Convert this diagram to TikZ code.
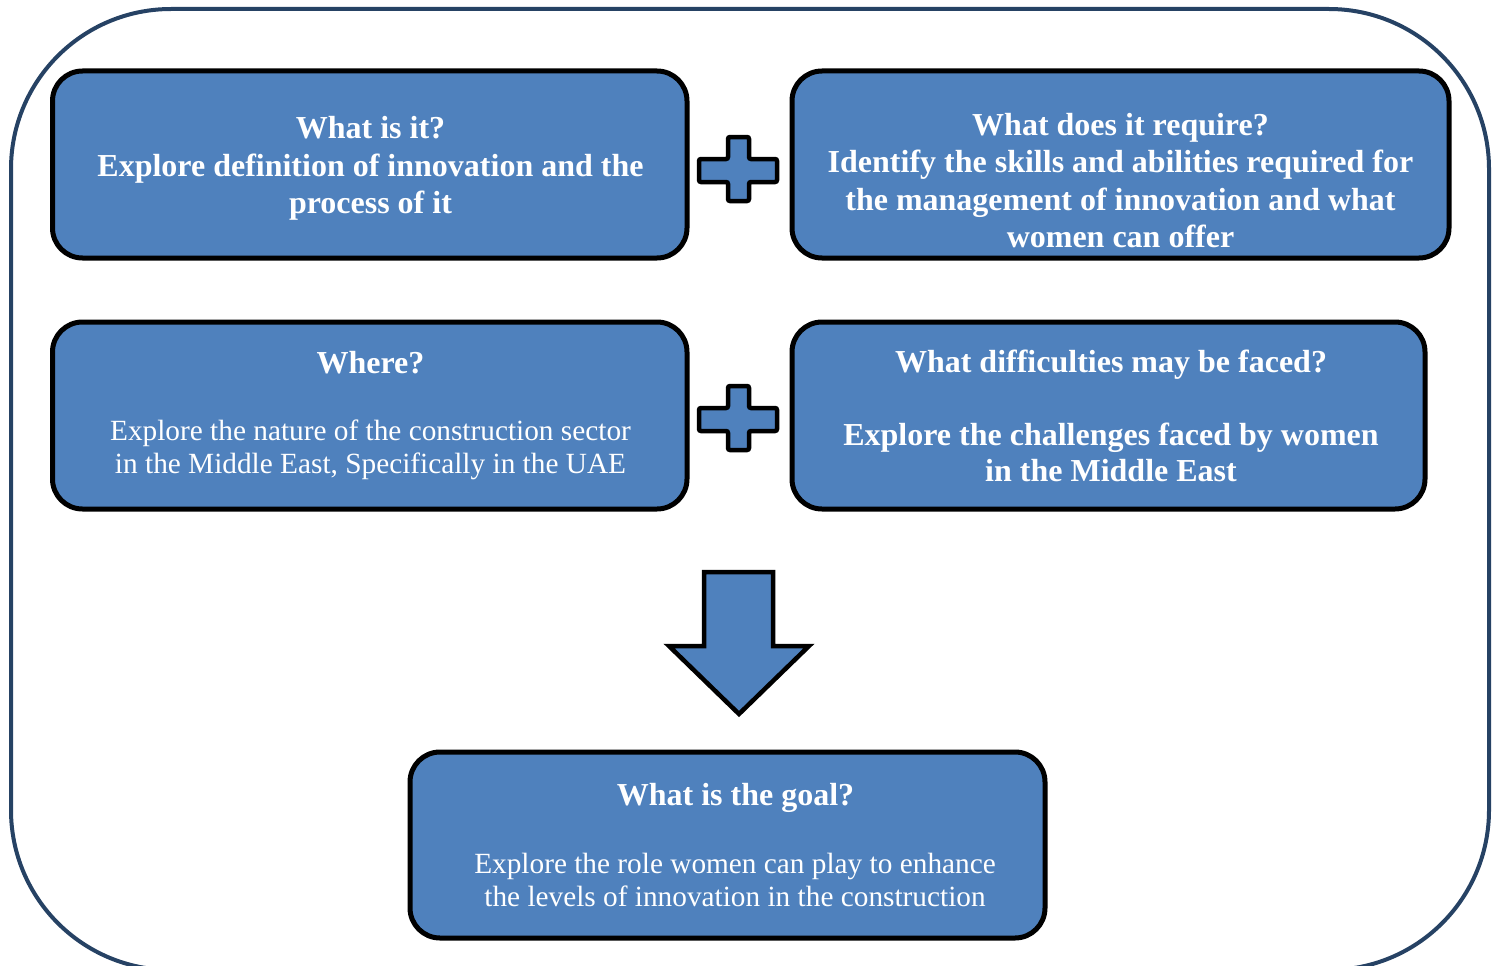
\documentclass[tikz,border=0pt]{standalone}
\usepackage{fontspec}
\setmainfont{Liberation Serif}
\definecolor{boxblue}{HTML}{4F81BD}
\definecolor{framenavy}{RGB}{38,66,100}
\begin{document}
\begin{tikzpicture}[x=1pt,y=-1pt,
  box/.style={draw=black, line width=5pt, fill=boxblue, rounded corners=30pt},
  shapeblue/.style={draw=black, line width=4.5pt, fill=boxblue},
  bt/.style={text=white, inner sep=0pt, anchor=base, font=\fontsize{32}{38}\selectfont\bfseries},
  rt/.style={text=white, inner sep=0pt, anchor=base, font=\fontsize{29.3}{35}\selectfont}]
\useasboundingbox (0,0) rectangle (1499,966);
\begin{scope}
\clip (0,0) rectangle (1499,966);
\draw[framenavy, line width=4pt, rounded corners=160pt] (11,9) rectangle (1489,970);
\end{scope}

% boxes
\draw[box] (52.5,71) rectangle (687,258);
\draw[box] (792,71) rectangle (1449,258);
\draw[box] (52.5,322) rectangle (687,509);
\draw[box] (792,322) rectangle (1425,509);
\draw[box] (410,752) rectangle (1045,938);

% plus signs
\foreach \dy in {0,249}{
\draw[shapeblue, rounded corners=2pt, line join=miter] (728,137+\dy) -- (749,137+\dy) -- (749,159+\dy) -- (777,159+\dy) -- (777,182+\dy) -- (749,182+\dy) -- (749,201+\dy) -- (728,201+\dy) -- (728,182+\dy) -- (699,182+\dy) -- (699,159+\dy) -- (728,159+\dy) -- cycle;
}

% down arrow
\draw[shapeblue, line join=miter, miter limit=10] (704,572) -- (773,572) -- (773,646) -- (809,646) -- (739,714) -- (669,646) -- (704,646) -- cycle;

% texts box 1
\node[bt] (t1a) at (370.5,138) {What is it?};
\node[bt] (t1b) at (370.5,176) {Explore definition of innovation and the};
\node[bt] (t1c) at (370.5,213.5) {process of it};
% box 2
\node[bt] (t2a) at (1120.5,135) {What does it require?};
\node[bt] (t2b) at (1120.5,172) {Identify the skills and abilities required for};
\node[bt] (t2c) at (1120.5,210) {the management of innovation and what};
\node[bt] (t2d) at (1120.5,247.5) {women can offer};
% box 3
\node[bt] (t3a) at (370.5,373) {Where?};
\node[rt] (t3b) at (370.5,440) {Explore the nature of the construction sector};
\node[rt] (t3c) at (370.5,473.5) {in the Middle East, Specifically in the UAE};
% box 4
\node[bt] (t4a) at (1111,372) {What difficulties may be faced?};
\node[bt] (t4b) at (1111,445) {Explore the challenges faced by women};
\node[bt] (t4c) at (1111,481) {in the Middle East};
% box 5
\node[bt] (t5a) at (735.5,805) {What is the goal?};
\node[rt] (t5b) at (735,873) {Explore the role women can play to enhance};
\node[rt] (t5c) at (735,906.5) {the levels of innovation in the construction};
\end{tikzpicture}
\end{document}
